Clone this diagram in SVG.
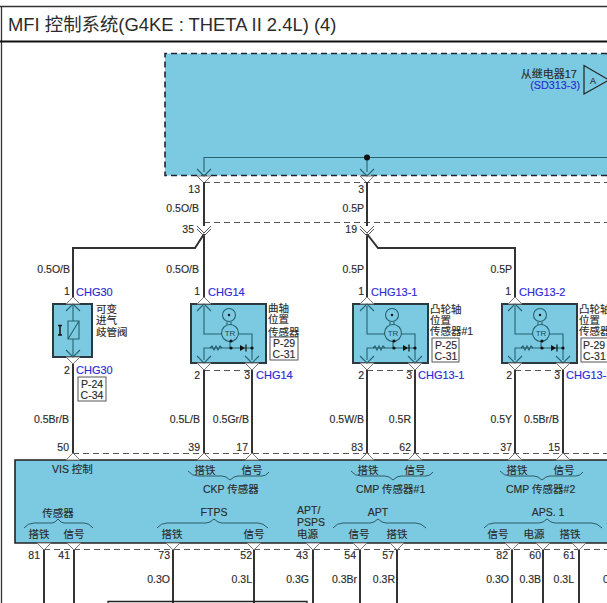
<svg xmlns="http://www.w3.org/2000/svg" xmlns:xlink="http://www.w3.org/1999/xlink" width="607" height="603" viewBox="0 0 607 603">
<style>
text{font-family:"Liberation Sans","Noto Sans CJK SC",sans-serif;font-size:10.5px;fill:#2b2b2b;stroke:#2b2b2b;stroke-width:.15}
.e{text-anchor:end}.m{text-anchor:middle}
.b{fill:#2a2ad6;stroke:#2a2ad6;font-size:11px}
.t{font-size:18.4px;stroke:none}
.box{fill:#7ccae2;stroke:#2b3a40;stroke-width:2}
.w{fill:none;stroke:#333;stroke-width:2}
.d{fill:none;stroke:#555;stroke-width:1.200;stroke-dasharray:6 4}
.i{fill:none;stroke:#27626f;stroke-width:1.100}
.br{fill:none;stroke:#2e5a66;stroke-width:1}
.pin{fill:#fff;stroke:#777;stroke-width:1}
.ref{fill:#fff;stroke:#555;stroke-width:1}
.k{fill:#111}
</style>
<defs>
<g id="pt"><path class="pin" d="M-7 0L0-7L7 0Z"/><path class="i" d="M-7 7L0 0L7 7"/></g>
<g id="pb"><path class="pin" d="M-7 0L0 7L7 0Z"/><path class="i" d="M-7-7L0 0L7-7"/></g>
<g id="ecmT"><path class="pin" d="M-7 0L0-7L7 0Z"/></g>
<g id="ecmB"><path class="pin" d="M-7 0L0 7L7 0Z"/></g>
<g id="sc">
<path class="i" d="M0 3V31H18M34 31H48V57M0 57V45H48M26 38V45"/>
<circle class="i" cx="25" cy="12" r="6.500"/><circle class="k" cx="25" cy="12" r="1.200"/>
<path class="i" d="M23 19V22M27 19V22"/>
<circle class="i" cx="26" cy="30" r="8.500"/>
<text x="26" y="33" class="m" style="font-size:8px;fill:#1f4a55;stroke:none">TR</text>
<path class="i" d="M6 45l2-2 2 4 2-4 2 4 2-4 2 2"/>
<circle class="k" cx="27" cy="38" r="1.600"/><circle class="k" cx="27" cy="45" r="1.600"/><circle class="k" cx="48" cy="45" r="1.600"/>
<path class="k" d="M36 42V48L41 45Z"/><path d="M42 41.500V48.500" stroke="#111" stroke-width="1.200"/>
</g>
</defs>

<g id="frame">
<path d="M0 6.500H607" stroke="#333" stroke-width="1.300" fill="none"/>
<path d="M1.500 6V603" stroke="#333" stroke-width="1.300" fill="none"/>
<path d="M0 41.500H607" stroke="#111" stroke-width="2.200" fill="none"/>
<text x="8" y="31" class="t">MFI 控制系统(G4KE : THETA II 2.4L) (4)</text>
</g>

<g id="relay-box">
<path d="M165 53.500H607V175.500H165Z" fill="#7ccae2" stroke="none"/>
<path d="M607 53.500H165V175.500H607" fill="none" stroke="#223" stroke-width="1.600" stroke-dasharray="6 4"/>
<path class="i" d="M204 172V157.500H607M367 157.500V172"/>
<circle class="k" cx="367" cy="157.500" r="3"/>
<path d="M584 65.500V94L609 80Z" fill="none" stroke="#222" stroke-width="1.200"/>
<text x="593" y="84" class="m" style="font-size:9px">A</text>
<text x="577" y="78" class="e" style="font-size:11px">从继电器17</text>
<text x="580" y="89" class="e" style="font-size:10.800px;fill:#2a2ad6;stroke:#2a2ad6">(SD313-3)</text>
<use xlink:href="#pb" href="#pb" x="204" y="176"/>
<use xlink:href="#pb" href="#pb" x="367" y="176"/>
</g>

<g id="connectors">
<path class="d" d="M204 182.500H607M204 222.500H607M204 370.500H252M367 370.500H415M515 370.500H563M73 453.500H607M44 549.500H607"/>
<path class="w" d="M204 182V226M367 182V226"/>
<path class="w" d="M204 234L195 248H73V297M367 234L378 248H515V297M204 234V297M367 234V297"/>
<path class="w" d="M73 364V453M204 370V453M252 370V453M367 370V453M415 370V453M515 370V453M563 370V453"/>
<path class="w" d="M44 550V603M74 550V603M173 550V603M254 550V603M313 550V603M360 550V603M397 550V603M512 550V603M543 550V603M579 550V603"/>
<path d="M197 226L204 233L211 226M197 229L204 236L211 229M360 226L367 233L374 226M360 229L367 236L374 229" fill="none" stroke="#555" stroke-width="1"/>
<path d="M108 603V601.500H307V603" fill="none" stroke="#222" stroke-width="1.300"/>
</g>

<g id="labels">
<text x="200" y="193" class="e">13</text><text x="364" y="193" class="e">3</text>
<text x="199" y="212" class="e">0.5O/B</text><text x="364" y="212" class="e">0.5P</text>
<text x="194" y="233" class="e">35</text><text x="357" y="233" class="e">19</text>
<text x="70" y="273" class="e">0.5O/B</text><text x="199" y="273" class="e">0.5O/B</text>
<text x="364" y="273" class="e">0.5P</text><text x="512" y="273" class="e">0.5P</text>
<text x="69" y="423" class="e">0.5Br/B</text><text x="200" y="423" class="e">0.5L/B</text>
<text x="249" y="423" class="e">0.5Gr/B</text><text x="364" y="423" class="e">0.5W/B</text>
<text x="411" y="423" class="e">0.5R</text><text x="512" y="423" class="e">0.5Y</text>
<text x="559" y="423" class="e">0.5Br/B</text>
<text x="69" y="451" class="e">50</text><text x="200" y="451" class="e">39</text>
<text x="248" y="451" class="e">17</text><text x="363" y="451" class="e">83</text>
<text x="411" y="451" class="e">62</text><text x="512" y="451" class="e">37</text>
<text x="560" y="451" class="e">15</text>
<text x="40" y="559" class="e">81</text><text x="70" y="559" class="e">41</text>
<text x="170" y="559" class="e">73</text><text x="252" y="559" class="e">52</text>
<text x="308" y="559" class="e">43</text><text x="356" y="559" class="e">54</text>
<text x="394" y="559" class="e">57</text><text x="508" y="559" class="e">82</text>
<text x="541" y="559" class="e">60</text><text x="575" y="559" class="e">61</text>
<text x="170" y="583" class="e">0.3O</text><text x="252" y="583" class="e">0.3L</text>
<text x="309" y="583" class="e">0.3G</text><text x="357" y="583" class="e">0.3Br</text>
<text x="395" y="583" class="e">0.3R</text><text x="509" y="583" class="e">0.3O</text>
<text x="541" y="583" class="e">0.3B</text><text x="574" y="583" class="e">0.3L</text>
<text x="603" y="583">0</text>
</g>

<g id="vis-valve">
<rect class="box" x="53" y="304" width="39" height="53"/>
<use xlink:href="#pt" href="#pt" x="73" y="304"/><use xlink:href="#pb" href="#pb" x="73" y="357"/>
<path class="i" d="M73 304V321M73 339V357M68 321H79V339H68ZM68 339L79 321"/>
<path d="M58 325.500H62M60 325.500V335M58 335H62" fill="none" stroke="#111" stroke-width="1.500"/>
<text x="64" y="295">1</text><text x="76" y="296" class="b">CHG30</text>
<text x="64" y="374">2</text><text x="76" y="374" class="b">CHG30</text>
<text x="96" y="313">可变</text><text x="96" y="324">进气</text><text x="96" y="336">歧管阀</text>
<rect class="ref" x="78" y="377" width="28" height="24"/>
<text x="92" y="388" class="m">P-24</text><text x="92" y="399" class="m">C-34</text>
</g>

<g id="ckp-sensor">
<rect class="box" x="191" y="304" width="75" height="59"/>
<use xlink:href="#sc" href="#sc" x="204" y="303"/>
<use xlink:href="#pt" href="#pt" x="204" y="304"/><use xlink:href="#pb" href="#pb" x="204" y="363"/><use xlink:href="#pb" href="#pb" x="252" y="363"/>
<text x="200" y="295" class="e">1</text><text x="208" y="296" class="b">CHG14</text>
<text x="200" y="379" class="e">2</text><text x="250" y="379" class="e">3</text><text x="256" y="379" class="b">CHG14</text>
<text x="268" y="312">曲轴</text><text x="268" y="323">位置</text><text x="268" y="336">传感器</text>
<rect class="ref" x="270" y="337" width="28" height="23"/>
<text x="284" y="347" class="m">P-29</text><text x="284" y="358" class="m">C-31</text>
</g>

<g id="cmp1-sensor">
<rect class="box" x="353" y="304" width="75" height="59"/>
<use xlink:href="#sc" href="#sc" x="367" y="303"/>
<use xlink:href="#pt" href="#pt" x="367" y="304"/><use xlink:href="#pb" href="#pb" x="367" y="363"/><use xlink:href="#pb" href="#pb" x="415" y="363"/>
<text x="364" y="295" class="e">1</text><text x="371" y="296" class="b">CHG13-1</text>
<text x="364" y="379" class="e">2</text><text x="412" y="379" class="e">3</text><text x="418" y="379" class="b">CHG13-1</text>
<text x="430" y="313">凸轮轴</text><text x="430" y="324">位置</text><text x="430" y="335">传感器#1</text>
<rect class="ref" x="432" y="338" width="27" height="24"/>
<text x="446" y="349" class="m">P-25</text><text x="446" y="360" class="m">C-31</text>
</g>

<g id="cmp2-sensor">
<rect class="box" x="502" y="304" width="75" height="59"/>
<use xlink:href="#sc" href="#sc" x="515" y="303"/>
<use xlink:href="#pt" href="#pt" x="515" y="304"/><use xlink:href="#pb" href="#pb" x="515" y="363"/><use xlink:href="#pb" href="#pb" x="563" y="363"/>
<text x="511" y="295" class="e">1</text><text x="519" y="296" class="b">CHG13-2</text>
<text x="512" y="379" class="e">2</text><text x="560" y="379" class="e">3</text><text x="566" y="379" class="b">CHG13-2</text>
<text x="579" y="313">凸轮轴</text><text x="579" y="324">位置</text><text x="579" y="335">传感器#2</text>
<rect class="ref" x="581" y="338" width="30" height="24"/>
<text x="583" y="349">P-29</text><text x="583" y="360">C-31</text>
</g>

<g id="ecm">
<path d="M607 460H15V543H607" fill="#7ccae2" stroke="#222" stroke-width="1.600"/>
<use xlink:href="#ecmT" href="#ecmT" x="73" y="460"/><use xlink:href="#ecmT" href="#ecmT" x="204" y="460"/><use xlink:href="#ecmT" href="#ecmT" x="252" y="460"/><use xlink:href="#ecmT" href="#ecmT" x="367" y="460"/><use xlink:href="#ecmT" href="#ecmT" x="415" y="460"/><use xlink:href="#ecmT" href="#ecmT" x="515" y="460"/><use xlink:href="#ecmT" href="#ecmT" x="563" y="460"/>
<use xlink:href="#ecmB" href="#ecmB" x="44" y="543"/><use xlink:href="#ecmB" href="#ecmB" x="74" y="543"/><use xlink:href="#ecmB" href="#ecmB" x="173" y="543"/><use xlink:href="#ecmB" href="#ecmB" x="254" y="543"/><use xlink:href="#ecmB" href="#ecmB" x="313" y="543"/><use xlink:href="#ecmB" href="#ecmB" x="360" y="543"/><use xlink:href="#ecmB" href="#ecmB" x="397" y="543"/><use xlink:href="#ecmB" href="#ecmB" x="512" y="543"/><use xlink:href="#ecmB" href="#ecmB" x="543" y="543"/><use xlink:href="#ecmB" href="#ecmB" x="579" y="543"/>
<path class="br" d="M188 471Q192 476 198 476H222Q226 476 230 480Q234 476 238 476H262Q266 476 269 472"/>
<path class="br" d="M351 471Q355 476 361 476H385Q389 476 393 480Q397 476 401 476H426Q430 476 433 472"/>
<path class="br" d="M500 471Q504 476 510 476H534Q538 476 542 480Q546 476 550 476H576Q580 476 583 472"/>
<path class="br" d="M24 528Q28 523 34 523H52Q55 523 58 519Q61 523 64 523H84Q89 523 93 528"/>
<path class="br" d="M157 528Q161 523 167 523H206Q210 523 214 519Q218 523 222 523H258Q263 523 268 528"/>
<path class="br" d="M333 528Q337 523 343 523H370Q374 523 378 519Q382 523 386 523H416Q421 523 426 528"/>
<path class="br" d="M484 528Q488 523 494 523H539Q543 523 547 519Q551 523 555 523H592Q597 523 602 528"/>
<text x="52" y="473">VIS 控制</text>
<text x="205" y="474" class="m">搭铁</text><text x="252" y="474" class="m">信号</text><text x="203" y="493">CKP 传感器</text>
<text x="368" y="474" class="m">搭铁</text><text x="415" y="474" class="m">信号</text><text x="356" y="493">CMP 传感器#1</text>
<text x="517" y="474" class="m">搭铁</text><text x="564" y="474" class="m">信号</text><text x="506" y="493">CMP 传感器#2</text>
<text x="58" y="517" class="m">传感器</text><text x="39" y="538" class="m">搭铁</text><text x="74" y="538" class="m">信号</text>
<text x="214" y="516" class="m">FTPS</text><text x="172" y="538" class="m">搭铁</text><text x="254" y="538" class="m">信号</text>
<text x="297" y="514">APT/</text><text x="297" y="526">PSPS</text><text x="297" y="538">电源</text>
<text x="378" y="516" class="m">APT</text><text x="359" y="538" class="m">信号</text><text x="397" y="538" class="m">搭铁</text>
<text x="548" y="516" class="m">APS. 1</text><text x="498" y="538" class="m">信号</text><text x="534" y="538" class="m">电源</text><text x="570" y="538" class="m">搭铁</text>
</g>
</svg>
